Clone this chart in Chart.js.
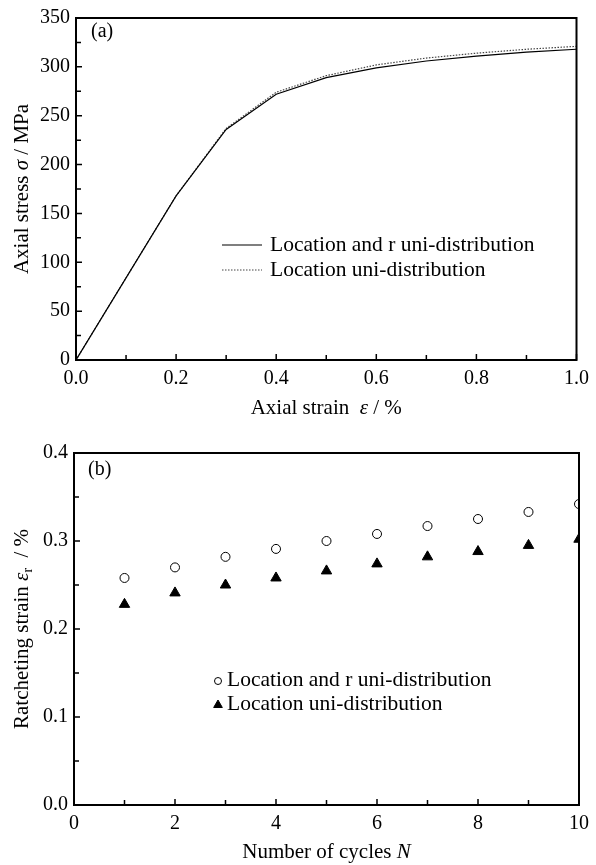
<!DOCTYPE html>
<html>
<head>
<meta charset="utf-8">
<script src="https://cdn.jsdelivr.net/npm/chart.js@4.4.1/dist/chart.umd.min.js"></script>
<style>
  body { margin: 0; background: #fff; }
  #wrapA { position: absolute; left: 0; top: 0; width: 596px; height: 430px; }
  #wrapB { position: absolute; left: 0; top: 430px; width: 596px; height: 435px; }
</style>
</head>
<body>
<div id="wrapA"><canvas id="stressChart" width="596" height="430"></canvas></div>
<div id="wrapB"><canvas id="ratchetChart" width="596" height="435"></canvas></div>
<script>
// (a) stress-strain
var strainPts = [0.0, 0.1, 0.2, 0.3, 0.4, 0.5, 0.6, 0.7, 0.8, 0.9, 1.0];
var stressLocR = [0, 84, 168, 236, 272, 289, 299, 306, 311, 315, 318];
var stressLoc = [0, 84, 168, 237, 274, 291, 302, 309, 314, 318, 321];

// (b) ratcheting strain vs cycles
var cycles = [1, 2, 3, 4, 5, 6, 7, 8, 9, 10];
var ratchetLocR = [0.258, 0.270, 0.282, 0.291, 0.300, 0.308, 0.317, 0.325, 0.333, 0.342];
var ratchetLoc = [0.228, 0.241, 0.250, 0.258, 0.266, 0.274, 0.282, 0.288, 0.295, 0.302];

var legendNames = ['Location and r uni-distribution', 'Location uni-distribution'];

var SERIF = "'Liberation Serif', 'Times New Roman', serif";
var TITLE_SIZE = 21;

function toXY(xs, ys) {
  return xs.map(function (x, i) { return { x: x, y: ys[i] }; });
}

// text made of pieces: {t, it (italic), sub (subscript)}
function richText(ctx, parts, size) {
  function fontOf(p) {
    var s = p.sub ? size * 0.65 : size;
    return (p.it ? 'italic ' : '') + s + 'px ' + SERIF;
  }
  var w = 0;
  parts.forEach(function (p) {
    ctx.font = fontOf(p);
    p.w = ctx.measureText(p.t).width;
    w += p.w;
  });
  var x = -w / 2;
  parts.forEach(function (p) {
    ctx.font = fontOf(p);
    ctx.fillText(p.t, x, p.sub ? size * 0.3 : 0);
    x += p.w;
  });
}

var decoPlugin = {
  id: 'deco',
  afterDraw: function (chart) {
    var o = chart.options.plugins.deco;
    var ctx = chart.ctx;
    var a = chart.chartArea;
    var xs = chart.scales.x, ys = chart.scales.y;
    ctx.save();
    ctx.strokeStyle = '#000';
    ctx.fillStyle = '#000';

    // frame
    ctx.lineWidth = 2;
    ctx.strokeRect(a.left, a.top, a.right - a.left, a.bottom - a.top);

    // inward ticks on left and bottom axes
    ctx.lineWidth = 1.5;
    ctx.beginPath();
    for (var v = xs.min; v <= xs.max + 1e-9; v += o.xMinor) {
      var px = xs.getPixelForValue(v);
      var major = Math.abs(v / o.xMajor - Math.round(v / o.xMajor)) < 1e-6;
      ctx.moveTo(px, a.bottom);
      ctx.lineTo(px, a.bottom - (major ? 6 : 5));
    }
    for (var u = ys.min; u <= ys.max + 1e-9; u += o.yMinor) {
      var py = ys.getPixelForValue(u);
      var majorY = Math.abs(u / o.yMajor - Math.round(u / o.yMajor)) < 1e-6;
      ctx.moveTo(a.left, py);
      ctx.lineTo(a.left + (majorY ? 6 : 5), py);
    }
    ctx.stroke();

    ctx.textBaseline = 'middle';
    ctx.textAlign = 'left';

    // x title
    ctx.save();
    ctx.translate((a.left + a.right) / 2, o.xTitleY);
    richText(ctx, o.xTitle, TITLE_SIZE);
    ctx.restore();

    // y title
    ctx.save();
    ctx.translate(22, (a.top + a.bottom) / 2);
    ctx.rotate(-Math.PI / 2);
    richText(ctx, o.yTitle, TITLE_SIZE);
    ctx.restore();

    // panel label
    ctx.font = '20px ' + SERIF;
    ctx.fillText(o.panel, o.panelX, o.panelY);

    // legend
    o.legend.forEach(function (item, i) {
      var ds = chart.data.datasets[i];
      var ly = item.y;
      if (o.legendType === 'line') {
        ctx.save();
        ctx.strokeStyle = ds.borderColor;
        ctx.lineWidth = ds.borderWidth;
        ctx.setLineDash(ds.borderDash || []);
        ctx.beginPath();
        ctx.moveTo(o.legendX, ly);
        ctx.lineTo(o.legendX + 40, ly);
        ctx.stroke();
        ctx.restore();
        ctx.font = '21.5px ' + SERIF;
        ctx.fillText(legendNames[i], o.legendX + 48, ly);
      } else {
        ctx.save();
        ctx.fillStyle = ds.pointBackgroundColor;
        ctx.strokeStyle = ds.pointBorderColor;
        ctx.lineWidth = 1;
        Chart.helpers.drawPoint(ctx, {
          pointStyle: ds.pointStyle, rotation: 0, radius: item.r, borderWidth: 1
        }, o.legendX, ly + 1);
        ctx.restore();
        ctx.font = '21.5px ' + SERIF;
        ctx.fillText(legendNames[i], o.legendX + 9, ly);
      }
    });
    ctx.restore();
  }
};

var tickFont = { family: SERIF, size: 20 };

new Chart(document.getElementById('stressChart'), {
  type: 'line',
  data: {
    datasets: [{
      label: legendNames[0],
      data: toXY(strainPts, stressLocR),
      borderColor: '#000',
      borderWidth: 1.2,
      pointRadius: 0,
      tension: 0,
      fill: false
    }, {
      label: legendNames[1],
      data: toXY(strainPts, stressLoc),
      borderColor: '#444',
      borderWidth: 1.2,
      borderDash: [1.5, 1.5],
      pointRadius: 0,
      tension: 0,
      fill: false
    }]
  },
  options: {
    responsive: false,
    animation: false,
    layout: { padding: { left: 0, top: 11, right: 13, bottom: 0 } },
    plugins: {
      legend: { display: false },
      tooltip: { enabled: false },
      deco: {
        xMinor: 0.1, xMajor: 0.2, yMinor: 25, yMajor: 50,
        xTitle: [{ t: 'Axial strain  ' }, { t: 'ε', it: true }, { t: ' / %' }],
        yTitle: [{ t: 'Axial stress ' }, { t: 'σ', it: true }, { t: ' / MPa' }],
        xTitleY: 408,
        panel: '(a)', panelX: 91, panelY: 32,
        legendType: 'line', legendX: 222,
        legend: [{ y: 245 }, { y: 270 }]
      }
    },
    scales: {
      x: {
        type: 'linear', min: 0, max: 1,
        grid: { display: false, drawTicks: false },
        border: { display: false },
        ticks: { stepSize: 0.2, color: '#000', font: tickFont, padding: 7,
          callback: function (v) { return v.toFixed(1); } },
        afterFit: function (s) { s.height = 70; }
      },
      y: {
        min: 0, max: 350,
        grid: { display: false, drawTicks: false },
        border: { display: false },
        ticks: { stepSize: 50, color: '#000', font: tickFont, padding: 6 },
        afterFit: function (s) { s.width = 76; }
      }
    }
  },
  plugins: [decoPlugin]
});

new Chart(document.getElementById('ratchetChart'), {
  type: 'scatter',
  data: {
    datasets: [{
      label: legendNames[0],
      data: toXY(cycles, ratchetLocR),
      pointStyle: 'circle',
      pointRadius: 4.5,
      pointBorderWidth: 1,
      pointBackgroundColor: '#fff',
      pointBorderColor: '#000',
      clip: 0
    }, {
      label: legendNames[1],
      data: toXY(cycles, ratchetLoc),
      pointStyle: 'triangle',
      pointRadius: 6,
      pointBorderWidth: 1,
      pointBackgroundColor: '#000',
      pointBorderColor: '#000',
      clip: 0
    }]
  },
  options: {
    responsive: false,
    animation: false,
    layout: { padding: { left: 0, top: 23, right: 12, bottom: 0 } },
    plugins: {
      legend: { display: false },
      tooltip: { enabled: false },
      deco: {
        xMinor: 1, xMajor: 2, yMinor: 0.05, yMajor: 0.1,
        xTitle: [{ t: 'Number of cycles ' }, { t: 'N', it: true }],
        yTitle: [{ t: 'Ratcheting strain ' }, { t: 'ε', it: true }, { t: 'r', sub: true }, { t: '  / %' }],
        xTitleY: 422,
        panel: '(b)', panelX: 88, panelY: 40,
        legendType: 'point', legendX: 218,
        legend: [{ y: 250, r: 3.5 }, { y: 274, r: 5 }]
      }
    },
    scales: {
      x: {
        type: 'linear', min: 0, max: 10,
        grid: { display: false, drawTicks: false },
        border: { display: false },
        ticks: { stepSize: 2, color: '#000', font: tickFont, padding: 7 },
        afterFit: function (s) { s.height = 60; }
      },
      y: {
        min: 0, max: 0.4,
        grid: { display: false, drawTicks: false },
        border: { display: false },
        ticks: { stepSize: 0.1, color: '#000', font: tickFont, padding: 6,
          callback: function (v) { return v.toFixed(1); } },
        afterFit: function (s) { s.width = 74; }
      }
    }
  },
  plugins: [decoPlugin]
});
</script>
</body>
</html>
